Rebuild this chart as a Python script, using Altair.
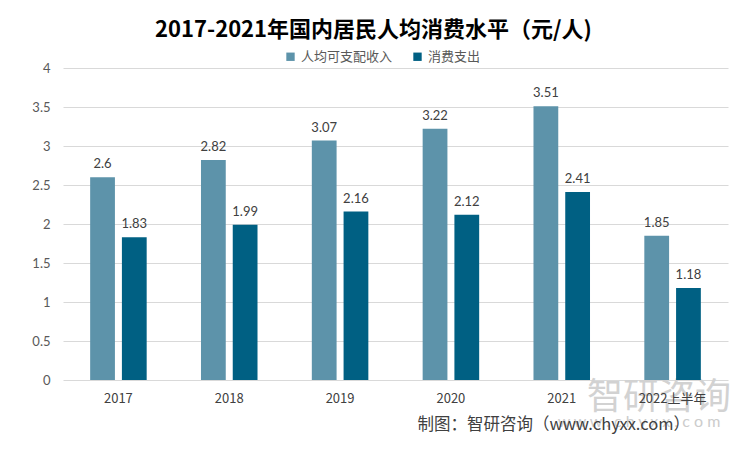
import altair as alt
import pandas as pd

years = ["2017", "2018", "2019", "2020", "2021", "2022上半年"]
income = [2.6, 2.82, 3.07, 3.22, 3.51, 1.85]
spend = [1.83, 1.99, 2.16, 2.12, 2.41, 1.18]
series = ["人均可支配收入", "消费支出"]
colors = ["#5D93AA", "#006083"]
y_ticks = [0, 0.5, 1, 1.5, 2, 2.5, 3, 3.5, 4]
title_text = "2017-2021年国内居民人均消费水平（元/人)"
source_text = "制图：智研咨询（www.chyxx.com）"
wm_big = "智研咨询"
wm_small = "w w w . c h y x x . c o m"

rows = []
for i, yr in enumerate(years):
    rows.append({"year": yr, "series": series[0], "value": income[i], "label": f"{income[i]:g}"})
    rows.append({"year": yr, "series": series[1], "value": spend[i], "label": f"{spend[i]:g}"})
df = pd.DataFrame(rows)

CJK = "Noto Sans CJK SC"
NUM = "Lato"

base = alt.Chart(df).encode(
    x=alt.X(
        "year:N",
        sort=years,
        scale=alt.Scale(paddingInner=0.49, paddingOuter=0.245),
        axis=alt.Axis(
            title=None, labelAngle=0, domain=False, ticks=False,
            labelPadding=12, labelFontSize=13, labelColor="#404040",
            labelFont=CJK, zindex=1,
        ),
    ),
    xOffset=alt.XOffset("series:N", sort=series, scale=alt.Scale(paddingInner=0.22)),
    y=alt.Y(
        "value:Q",
        scale=alt.Scale(domain=[0, 4]),
        axis=alt.Axis(
            title=None, values=y_ticks, format="~g", domain=False, ticks=False,
            labelOverlap=False, tickCount=20,
            labelPadding=13, labelFontSize=13, labelColor="#595959", labelFont=NUM,
            grid=True, gridColor="#D9D9D9", gridWidth=1,
        ),
    ),
)

bars = base.mark_bar().encode(
    color=alt.Color(
        "series:N",
        sort=series,
        scale=alt.Scale(domain=series, range=colors),
        legend=alt.Legend(
            title=None, orient="none", legendX=221, legendY=-18,
            direction="horizontal", symbolType="square", symbolSize=70,
            symbolStrokeWidth=0, labelFontSize=13, labelColor="#595959",
            labelFont=CJK, columnPadding=18,
        ),
    ),
)

labels = base.mark_text(
    baseline="bottom", dy=-6, fontSize=13, color="#404040", font=NUM
).encode(text="label:N")

wm1 = alt.Chart(pd.DataFrame({"t": [wm_big]})).mark_text(
    fontSize=36, font=CJK, color="#D2D2D2", align="center", baseline="middle"
).encode(x=alt.value(596), y=alt.value(330), text="t:N")

wm2 = alt.Chart(pd.DataFrame({"t": [wm_small]})).mark_text(
    fontSize=16, font=NUM, color="#CCCCCC", align="center", baseline="middle"
).encode(x=alt.value(576), y=alt.value(354), text="t:N")

src = alt.Chart(pd.DataFrame({"t": [source_text]})).mark_text(
    fontSize=16.5, font=CJK, color="#404040", align="right", baseline="middle"
).encode(x=alt.value(627), y=alt.value(357), text="t:N")

chart = alt.layer(wm1, wm2, bars, labels, src).properties(
    width=665,
    height=312,
    background="white",
    autosize=alt.AutoSizeParams(type="none"),
    padding={"left": 55, "top": 60, "right": 14, "bottom": 63},
    title=alt.TitleParams(
        title_text, anchor="middle", dx=-22, offset=8,
        fontSize=22, font=CJK, fontWeight="bold", color="#000000",
    ),
).configure_view(stroke=None)

chart.save("out.html", embed_options={"renderer": "svg", "actions": False})
